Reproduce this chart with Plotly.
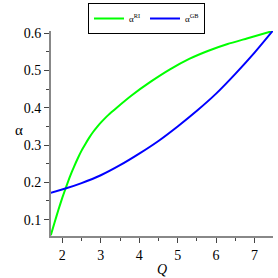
import plotly.graph_objects as go

q_ri = [1.70, 1.80, 1.90, 2.00, 2.10, 2.20, 2.30, 2.40, 2.50, 2.60, 2.70, 2.80, 2.90, 3.00,
        3.10, 3.20, 3.30, 3.40, 3.80, 4.30, 4.80, 5.30, 5.80, 6.30, 6.80, 7.47]
a_ri = [0.058, 0.093, 0.127, 0.159, 0.188, 0.216, 0.241, 0.264, 0.285, 0.303, 0.320, 0.335,
        0.348, 0.360, 0.371, 0.381, 0.390, 0.399, 0.433, 0.470, 0.503, 0.531, 0.553, 0.571,
        0.586, 0.606]

q_gb = [1.70, 2.10, 2.50, 3.00, 3.50, 4.00, 4.50, 5.00, 5.50, 6.00, 6.50, 7.00, 7.47]
a_gb = [0.172, 0.184, 0.198, 0.219, 0.246, 0.277, 0.311, 0.350, 0.392, 0.438, 0.491, 0.548, 0.606]

x_ticks = [2, 3, 4, 5, 6, 7]
y_ticks = [0.1, 0.2, 0.3, 0.4, 0.5, 0.6]

font_fam = "Liberation Serif, Times New Roman, serif"
W, H = 278, 278
ML, MR, MT, MB = 51, 5, 31, 42

fig = go.Figure()
fig.add_trace(go.Scatter(x=q_ri, y=a_ri, mode="lines", name="α<sup>RI</sup>",
                         line=dict(color="#00ff00", width=2, shape="spline", smoothing=0.5)))
fig.add_trace(go.Scatter(x=q_gb, y=a_gb, mode="lines", name="α<sup>GB</sup>",
                         line=dict(color="#0000ff", width=2, shape="spline", smoothing=0.8)))

fig.update_layout(
    width=W, height=H,
    margin=dict(l=ML, r=MR, t=MT, b=MB, autoexpand=False),
    paper_bgcolor="white", plot_bgcolor="white",
    font=dict(family=font_fam, size=14, color="black"),
    showlegend=True,
    legend=dict(orientation="h", x=88 / W, y=1 - 3 / H, xref="container", yref="container",
                xanchor="left", yanchor="top",
                bordercolor="black", borderwidth=1, bgcolor="white",
                font=dict(size=9, family=font_fam, color="black"), itemwidth=30,
                tracegroupgap=0),
    xaxis=dict(range=[1.705, 7.48], tickvals=x_ticks, showgrid=False, zeroline=False,
               showline=True, linecolor="#888888", linewidth=2,
               ticks="outside", ticklen=5, tickcolor="#444444",
               minor=dict(ticks="outside", dtick=0.5, ticklen=3, tickcolor="#444444"),
               title=dict(text="<i>Q</i>", font=dict(size=14), standoff=2)),
    yaxis=dict(range=[0.056, 0.606], tickvals=y_ticks, showgrid=False, zeroline=False,
               showline=True, linecolor="#888888", linewidth=2,
               ticks="outside", ticklen=5, tickcolor="#444444",
               minor=dict(ticks="outside", dtick=0.05, ticklen=3, tickcolor="#444444")),
)
pw = W - ML - MR
ph = H - MT - MB
fig.add_annotation(text="α", x=(13 - ML) / pw, y=(H - MB - 130) / ph,
                   xref="paper", yref="paper", showarrow=False,
                   font=dict(size=15, family=font_fam))

fig.write_html("out.html", config={"displayModeBar": False},
               post_script="document.body.style.margin='0';document.body.style.overflow='hidden';")
